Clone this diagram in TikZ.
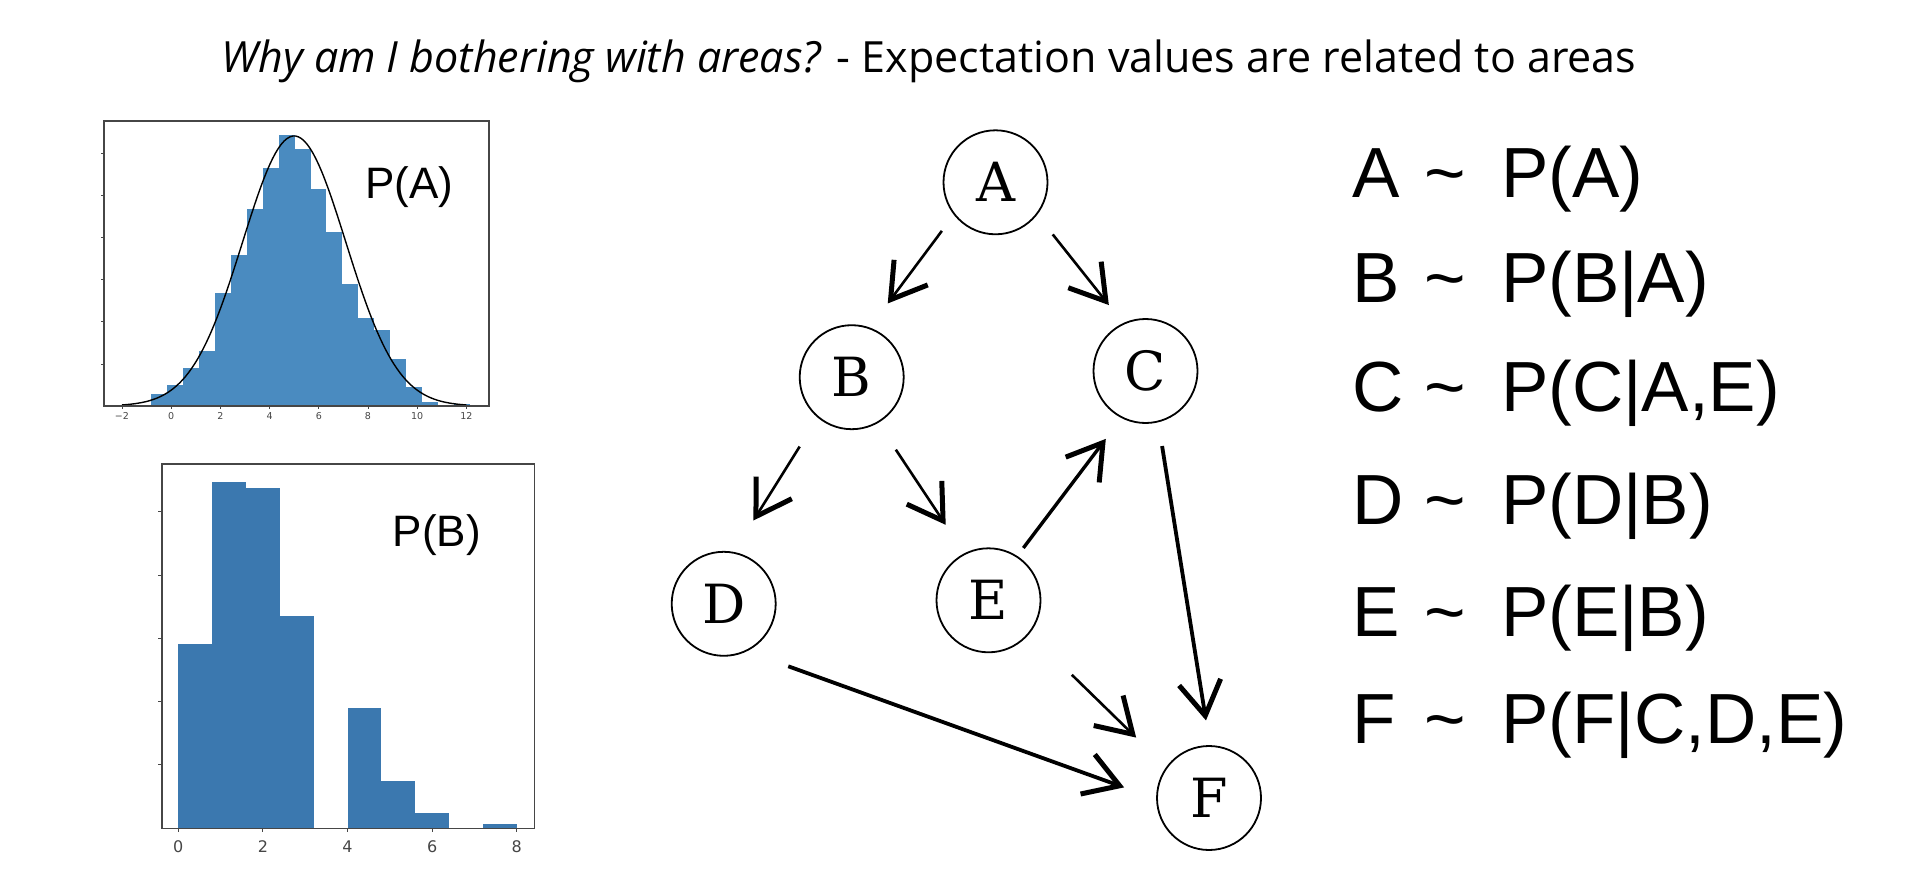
\documentclass[tikz,border=0pt]{standalone}
\usepackage{fontspec}
\newfontfamily\titlefont{Open Sans}
\newfontfamily\labelfont{Liberation Sans}
\newfontfamily\tickfont{DejaVu Sans}
\newfontfamily\varfont{DejaVu Serif}
\usetikzlibrary{arrows.meta}

\definecolor{histA}{RGB}{74,139,192}
\definecolor{histB}{RGB}{59,120,175}
\definecolor{axisgray}{RGB}{70,70,70}

\tikzset{
  var/.style={circle, draw, line width=1.8pt, minimum size=104pt, inner sep=0pt,
    font=\varfont\fontsize{54}{56}\selectfont},
  edge/.style={line width=2.6pt, -{Straight Barb[length=34pt,width=42pt,line width=5pt]}},
  frame/.style={draw=axisgray, line width=1.3pt},
  ticklabel/.style={text=axisgray, inner sep=0pt},
  plabel/.style={anchor=base west, inner sep=0pt, font=\labelfont\fontsize{44}{46}\selectfont},
  cond/.style={anchor=base west, inner sep=0pt, font=\labelfont\fontsize{71}{73}\selectfont}
}

\newcommand\condrow[2]{\makebox[72pt][l]{#1}\makebox[77pt][l]{\symbol{126}}#2}

\begin{document}
\begin{tikzpicture}[x=1pt, y=-1pt]
  \useasboundingbox (0,0) rectangle (1913,877);

  \node[anchor=base, inner sep=0pt, font=\titlefont\fontsize{43}{45}\selectfont] (title) at (929,73)
    {\textit{Why am I bothering with areas?} - Expectation values are related to areas};

  % histogram of A
  \foreach \h [count=\i from 0] in {12,20.7,37.7,55,113,151,197.3,237.7,271.3,257,
                                   216.7,174.3,122,87.7,75.7,46.7,18.7,4.3,1,2} {
    \fill[histA] ({151+15.95*\i},406) rectangle ++(15.95,-\h);
  }
  \draw[black, line width=1.4pt, domain=-2:12, samples=120]
    plot ({122+24.6*(\x+2)}, {406-270*exp(-((\x-5)^2)/8.82)});
  \draw[frame] (104,121) rectangle (489,406);
  \foreach \y in {0,...,5}
    \draw[axisgray, line width=1pt] (101,{153.3+42.15*\y}) -- (104,{153.3+42.15*\y});
  \foreach \v/\t in {-2/−2,0/0,2/2,4/4,6/6,8/8,10/10,12/12} {
    \draw[axisgray, line width=1pt] ({122+24.6*(\v+2)},406) -- ++(0,3);
    \node[ticklabel, font=\tickfont\fontsize{9.5}{10}\selectfont] at ({122+24.6*(\v+2)},416) {\t};
  }
  \node[plabel] (pA) at (365,198.3) {P(A)};

  % histogram of B
  \foreach \h [count=\i from 0] in {184,346,340.7,212.7,0,120.7,47.3,15.7,0,4} {
    \fill[histB] ({178.3+33.84*\i},828.3) rectangle ++(33.84,-\h);
  }
  \draw[frame] (162,464) rectangle (534.5,828.3);
  \foreach \y in {0,...,4}
    \draw[axisgray, line width=1pt] (158,{511.7+63.3*\y}) -- (162,{511.7+63.3*\y});
  \foreach \v in {0,2,...,8} {
    \draw[axisgray, line width=1pt] ({178.3+42.3*\v},828.3) -- ++(0,4);
    \node[ticklabel, font=\tickfont\fontsize{16}{17}\selectfont] at ({178.3+42.3*\v},846.7) {\v};
  }
  \node[plabel] (pB) at (392.6,546.7) {P(B)};

  % the network
  \node[var] (A) at (995.5,182.3) {A};
  \node[var] (B) at (851.7,377.2) {B};
  \node[var] (C) at (1145.5,371) {C};
  \node[var] (D) at (723.7,603.8) {D};
  \node[var] (E) at (988.5,600.3) {E};
  \node[var] (F) at (1209,798) {F};

  \draw[edge, shorten <=20pt, shorten >=30pt] (A.218) -- (B.70);
  \draw[edge, shorten <=25pt, shorten >=23pt] (A.322) -- (C.115);
  \draw[edge, shorten <=34pt, shorten >=37pt] (B.230) -- (D.79);
  \draw[edge, shorten <=32pt, shorten >=34pt] (B.300) -- (E.117);
  \draw[edge, line width=3.4pt, shorten <=10pt, shorten >=26pt] (E.57) -- (C.243);
  \draw[edge, line width=3.8pt, shorten <=44pt, shorten >=34pt] (D.296) -- (F.181);
  \draw[edge, shorten <=59pt, shorten >=42pt] (E.321) -- (F.144);
  \draw[edge, line width=3.8pt, shorten <=24pt, shorten >=25pt] (C.284) -- (F.89);

  % conditionals
  \node[cond] (rA) at (1352,198) {\condrow{A}{P(A)}};
  \node[cond] (rB) at (1352,302) {\condrow{B}{P(B|A)}};
  \node[cond] (rC) at (1352,411) {\condrow{C}{P(C|A,E)}};
  \node[cond] (rD) at (1352,524) {\condrow{D}{P(D|B)}};
  \node[cond] (rE) at (1352,636) {\condrow{E}{P(E|B)}};
  \node[cond] (rF) at (1352,743) {\condrow{F}{P(F|C,D,E)}};
\end{tikzpicture}
\end{document}
